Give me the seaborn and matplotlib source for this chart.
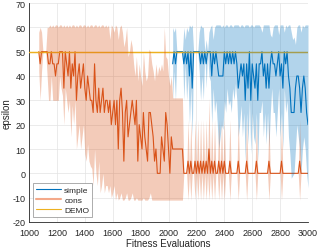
import numpy as np
import pandas as pd
import matplotlib
matplotlib.use("Agg")
import matplotlib.pyplot as plt
import seaborn as sns
from matplotlib.lines import Line2D

# ---------------- data ----------------
cons_x = np.arange(1070, 3001, 10)
cons_mean = [
    50, 45, 50, 50, 50, 50, 50,
    45, 45, 50, 45, 45, 40, 45, 45, 50, 50, 50,
    35, 50, 45, 40, 50, 35, 45, 40, 50, 30,
    40, 45, 35, 40, 45, 35, 30, 40, 35, 30,
    30, 25, 45, 30, 25, 35, 25, 30, 35, 25,
    30, 30, 25, 30, 20, 25, 30, 20, 30, 10,
    30, 35, 25, 5, 25, 30, 15, 20, 25, 30,
    25, 20, 30, 5, 20, 15, 10, 25, 15, 10,
    5, 25, 25, 20, 15, 5, 10, 0, 0, 0,
    15, 10, 5, 25, 20, 10, 0, 15, 10, 10,
    10, 10, 10, 10, 10, 10, 0, 0, 0, 5,
    0, 5, 0, 0, 5, 0, 5, 0, 5, 0,
    5, 0, 5, 0, 10, 0, 5, 0, 5, 0,
    0, 5, 0, 5, 0, 5, 0, 0, 0, 5,
    0, 0, 0, 0, 0, 5, 0, 0, 0, 0,
    0, 5, 0, 0, 0, 0, 0, 0, 5, 0,
    0, 0, 0, 0, 0, 0, 0, 5, 0, 0,
    0, 0, 0, 0, 0, 0, 5, 0, 0, 0,
    0, 0, 0, 0, 0, 0, 0, 0, 0, 5,
    0, 0, 0, 0, 0, 0,
]
cons_hi = [
    58, 60, 58, 50, 50, 50, 60,
    60, 61, 60, 61, 60, 61, 61, 60, 61, 61, 60,
    61, 60, 61, 60, 61, 60, 61, 61, 60, 61,
    60, 61, 61, 60, 61, 61, 60, 61, 60, 61,
    61, 60, 61, 61, 60, 61, 60, 61, 61, 60,
    61, 60, 61, 55, 61, 60, 58, 61, 60, 55,
    60, 61, 58, 52, 55, 60, 48, 50, 55, 52,
    45, 40, 48, 38, 45, 40, 36, 50, 42, 38,
    40, 51, 50, 45, 42, 38, 45, 40, 44, 42,
    45, 42, 60, 48, 47, 40, 36, 40, 31, 31,
    31, 31, 31, 31, 31, 31, 0, 0, 0, 22,
    0, 22, 0, 0, 22, 0, 22, 0, 22, 0,
    22, 0, 22, 0, 31, 0, 22, 0, 22, 0,
    0, 22, 0, 22, 0, 22, 0, 0, 0, 22,
    0, 0, 0, 0, 0, 22, 0, 0, 0, 0,
    0, 22, 0, 0, 0, 0, 0, 0, 22, 0,
    0, 0, 0, 0, 0, 0, 0, 22, 0, 0,
    0, 0, 0, 0, 0, 0, 22, 0, 0, 0,
    0, 0, 0, 0, 0, 0, 0, 0, 0, 22,
    0, 0, 0, 0, 0, 0,
]
cons_lo = [
    42, 30, 42, 50, 50, 50, 40,
    30, 30, 40, 30, 30, 30, 30, 30, 40, 35, 32,
    20, 35, 30, 25, 30, 15, 28, 20, 30, 10,
    15, 20, 10, 15, 20, 8, 5, 12, 5, 3,
    2, -5, 10, 0, -5, 5, -8, -5, 0, -8,
    -5, -5, -8, -5, -10, -8, -5, -11, -8, -11,
    -10, -8, -11, -11, -10, -8, -11, -11, -10, -8,
    -11, -11, -10, -11, -11, -11, -11, -10, -11, -11,
    -11, -10, -8, -11, -11, -11, -11, -11, -11, -11,
    -11, -11, -11, -11, -11, -11, -11, -11, -11, -11,
    -11, -11, -11, -11, -11, -11, 0, 0, 0, -11,
    0, -11, 0, 0, -11, 0, -11, 0, -11, 0,
    -11, 0, -11, 0, -11, 0, -11, 0, -11, 0,
    0, -11, 0, -11, 0, -11, 0, 0, 0, -11,
    0, 0, 0, 0, 0, -11, 0, 0, 0, 0,
    0, -11, 0, 0, 0, 0, 0, 0, -11, 0,
    0, 0, 0, 0, 0, 0, 0, -11, 0, 0,
    0, 0, 0, 0, 0, 0, -11, 0, 0, 0,
    0, 0, 0, 0, 0, 0, 0, 0, 0, -11,
    0, 0, 0, 0, 0, 0,
]

simple_x = np.arange(2030, 3001, 10)
simple_mean = [
    45, 50, 45, 50, 50, 50, 50, 50, 45, 50,
    45, 50, 40, 50, 35, 50, 50, 50, 50, 50,
    45, 50, 45, 50, 45, 50, 50, 50, 40, 50,
    45, 50, 45, 40, 40, 40, 40, 50, 45, 50,
    45, 50, 45, 50, 45, 50, 45,
    35, 40, 45, 40, 45, 30, 45, 35, 50, 30,
    45, 40, 35, 45, 30, 45, 45, 50, 40, 45,
    35, 45, 35, 45, 50, 45, 45, 40, 45, 50,
    40, 45, 35, 50, 45, 50, 40, 35, 25, 25,
    25, 35, 40, 40, 35, 25, 35, 40, 35, 25,
    20,
]
simple_hi = [
    60, 58, 60, 50, 50, 50, 50, 50, 60, 55,
    60, 58, 61, 60, 61, 50, 50, 50, 50, 58,
    61, 60, 60, 50, 55, 50, 58, 60, 61, 55,
    60, 61, 61, 61, 61, 60, 61, 60, 61, 61,
    60, 61, 61, 60, 61, 61, 61,
    61, 60, 61, 61, 60, 61, 61, 61, 60, 61,
    61, 60, 61, 61, 61, 61, 60, 58, 61, 61,
    61, 61, 61, 57, 56, 60, 61, 61, 61, 57,
    61, 61, 61, 58, 61, 60, 61, 61, 58, 55,
    56, 53, 60, 61, 61, 58, 61, 60, 61, 61,
    61,
]
simple_lo = [
    30, 42, 30, 50, 50, 50, 50, 50, 30, 45,
    30, 40, 20, 35, 15, 50, 50, 50, 50, 42,
    30, 40, 30, 50, 35, 50, 40, 38, 20, 35,
    25, 30, 20, 10, 15, 20, 18, 30, 25, 35,
    28, 30, 25, 35, 30, 37, 30,
    15, 20, 28, 15, 25, 5, 25, 12, 30, 8,
    25, 15, 12, 25, 5, 25, 25, 30, 15, 25,
    12, 25, 10, 25, 35, 25, 25, 15, 25, 35,
    15, 25, 10, 35, 25, 30, 15, 8, -2, -1,
    0, 10, 20, 15, 10, 0, 10, 15, 10, 0,
    -6,
]

demo_x = [1000, 3000]
demo_y = [50, 50]

labels = ["simple", "cons", "DEMO"]
colors = {"simple": "#0072BD", "cons": "#D95319", "DEMO": "#EDB120"}

# ---------------- plotting ----------------
sns.set_theme(style="white")
plt.rcParams["font.family"] = ["Liberation Sans", "DejaVu Sans"]
plt.rcParams["axes.unicode_minus"] = False

fig = plt.figure(figsize=(3.19, 2.51), dpi=100)
ax = fig.add_axes([29 / 319, 1 - 223 / 251, 279 / 319, 219 / 251])

df_simple = pd.DataFrame({"x": simple_x, "y": simple_mean})
df_cons = pd.DataFrame({"x": cons_x, "y": cons_mean})
df_demo = pd.DataFrame({"x": demo_x, "y": demo_y})

sns.lineplot(data=df_simple, x="x", y="y", ax=ax, color=colors["simple"], lw=0.8, zorder=3)
sns.lineplot(data=df_cons, x="x", y="y", ax=ax, color=colors["cons"], lw=0.8, zorder=3)
sns.lineplot(data=df_demo, x="x", y="y", ax=ax, color=colors["DEMO"], lw=1.05, zorder=4)

ax.fill_between(simple_x, simple_lo, simple_hi, color=colors["simple"], alpha=0.3,
                lw=0, zorder=5)
ax.fill_between(cons_x, cons_lo, cons_hi, color=colors["cons"], alpha=0.3,
                lw=0, zorder=5)

ax.set_xlim(1000, 3000)
ax.set_ylim(-20, 70)
ax.set_xticks(np.arange(1000, 3001, 200))
ax.set_yticks(np.arange(-20, 71, 10))
ax.grid(True, color="#E3E3E3", lw=0.5)
ax.set_axisbelow(True)
for s in ["top", "right"]:
    ax.spines[s].set_visible(False)
for s in ["left", "bottom"]:
    ax.spines[s].set_color("#262626")
    ax.spines[s].set_linewidth(0.6)
ax.tick_params(axis="both", direction="in", length=2, width=0.5, colors="#262626",
               labelsize=6.5)
ax.tick_params(axis="x", pad=4)
ax.tick_params(axis="y", pad=2.5)
ax.set_xlabel("Fitness Evaluations", fontsize=7, color="#262626", labelpad=1)
ax.set_ylabel("epsilon", fontsize=7, color="#262626", labelpad=1)

handles = [
    Line2D([], [], color=colors["simple"], lw=0.8),
    Line2D([], [], color="#F4A98A", lw=1.5),
    Line2D([], [], color=colors["DEMO"], lw=0.8),
]
leg = ax.legend(handles, labels, loc="lower left", bbox_to_anchor=(0.014, 0.025),
                borderaxespad=0, fontsize=6, handlelength=3.0, handletextpad=0.4,
                labelspacing=0.25, borderpad=0.35, frameon=True, fancybox=False,
                framealpha=1, edgecolor="#8C8C8C")
leg.get_frame().set_linewidth(0.5)
for t in leg.get_texts():
    t.set_color("#262626")

fig.savefig("out.png", dpi=100)
